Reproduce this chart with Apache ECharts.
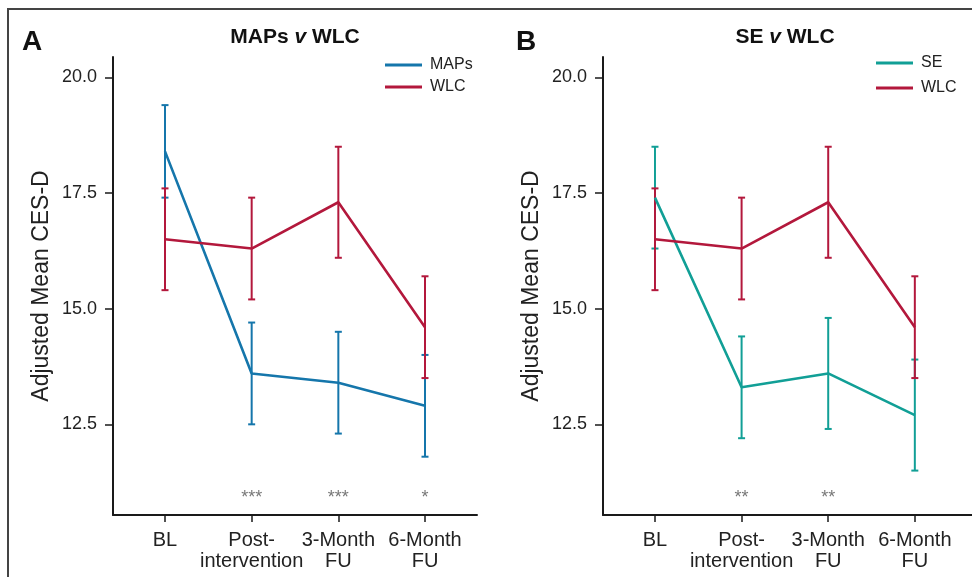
<!DOCTYPE html>
<html><head><meta charset="utf-8">
<script src="https://cdn.jsdelivr.net/npm/echarts@6/dist/echarts.min.js"></script>
<style>
html,body{margin:0;padding:0;background:#fff;overflow:hidden;}
#c{width:972px;height:577px;position:absolute;left:0;top:0;}
#frame{position:absolute;left:7px;top:8px;width:990px;height:600px;border-left:2px solid #444;border-top:2px solid #444;pointer-events:none;}
</style></head><body>
<div id="c"></div><div id="frame"></div>
<script>
// ---- data ----
const categories = ['BL', 'Post-\nintervention', '3-Month\nFU', '6-Month\nFU'];
const yTicks = [12.5, 15.0, 17.5, 20.0];
const mapsMean = [18.4, 13.6, 13.4, 12.9];
const mapsLow  = [17.4, 12.5, 12.3, 11.8];
const mapsHigh = [19.4, 14.7, 14.5, 14.0];
const wlcMean  = [16.5, 16.3, 17.3, 14.6];
const wlcLow   = [15.4, 15.2, 16.1, 13.5];
const wlcHigh  = [17.6, 17.4, 18.5, 15.7];
const seMean   = [17.4, 13.3, 13.6, 12.7];
const seLow    = [16.3, 12.2, 12.4, 11.5];
const seHigh   = [18.5, 14.4, 14.8, 13.9];
const sigA = ['', '***', '***', '*'];
const sigB = ['', '**', '**', ''];
const sigLevel = 11.0;

// ---- styling ----
const BLUE = '#1576ab', RED = '#b3183c', TEAL = '#119f96';
const FONT = '"Liberation Sans", Arial, Helvetica, sans-serif';
const AX = '#1a1a1a';

const chart = echarts.init(document.getElementById('c'), null, {renderer: 'canvas'});

function pts(arr) { return arr.map((v, i) => [i, v]); }
function errData(lo, hi) { return lo.map((v, i) => [i, v, hi[i]]); }
function errRender(color) {
  return function (params, api) {
    const x = api.value(0);
    const lo = api.coord([x, api.value(1)]);
    const hi = api.coord([x, api.value(2)]);
    const hw = 3.5;
    const style = {stroke: color, lineWidth: 2};
    return {type: 'group', children: [
      {type: 'line', shape: {x1: lo[0], y1: lo[1], x2: hi[0], y2: hi[1]}, style: style},
      {type: 'line', shape: {x1: lo[0] - hw, y1: lo[1], x2: lo[0] + hw, y2: lo[1]}, style: style},
      {type: 'line', shape: {x1: hi[0] - hw, y1: hi[1], x2: hi[0] + hw, y2: hi[1]}, style: style}
    ]};
  };
}
function xAxisCfg(gi, max) {
  return {
    type: 'value', gridIndex: gi, min: -0.6, max: max,
    axisLine: {show: true, onZero: false, lineStyle: {color: AX, width: 2}},
    axisTick: {show: true, length: 7, customValues: [0, 1, 2, 3], lineStyle: {color: AX, width: 1.5}},
    axisLabel: {customValues: [0, 1, 2, 3], formatter: v => categories[Math.round(v)],
      fontSize: 20, lineHeight: 21, color: '#222', margin: 15, fontFamily: FONT},
    splitLine: {show: false}
  };
}
function yAxisCfg(gi) {
  return {
    type: 'value', gridIndex: gi, min: 10.54, max: 20.44,
    name: 'Adjusted Mean CES-D', nameLocation: 'middle', nameGap: 60,
    nameTextStyle: {fontSize: 23, color: '#222', fontFamily: FONT},
    axisLine: {show: true, onZero: false, lineStyle: {color: AX, width: 2}},
    axisTick: {show: true, length: 8, customValues: yTicks, lineStyle: {color: AX, width: 1.5}},
    axisLabel: {customValues: yTicks, formatter: v => v.toFixed(1), fontSize: 18, margin: 16,
      color: '#222', fontFamily: FONT},
    splitLine: {show: false}
  };
}
function lineSeries(name, data, color, gi) {
  return {type: 'line', name: name, xAxisIndex: gi, yAxisIndex: gi, data: pts(data),
    symbol: 'none', lineStyle: {color: color, width: 2.6}, itemStyle: {color: color}, z: 3};
}
function errSeries(name, lo, hi, color, gi) {
  return {type: 'custom', name: name, xAxisIndex: gi, yAxisIndex: gi, data: errData(lo, hi),
    encode: {x: 0, y: [1, 2]}, renderItem: errRender(color), z: 2};
}
function sigSeries(sig, gi) {
  return {type: 'scatter', xAxisIndex: gi, yAxisIndex: gi,
    data: sig.map((s, i) => [i, sigLevel]).filter((d, i) => sig[i] !== ''),
    symbolSize: 1, itemStyle: {color: 'rgba(0,0,0,0)'}, silent: true,
    label: {show: true, position: 'inside', formatter: p => sig[p.value[0]],
      fontSize: 18, color: '#555', fontFamily: FONT, offset: [0, 4]}};
}
const legendBase = {orient: 'vertical', itemWidth: 37, itemHeight: 3, icon: 'rect', padding: 0,
  textStyle: {fontSize: 16, color: '#222', fontFamily: FONT, padding: [0, 0, 0, 3]}};

chart.setOption({
  animation: false,
  backgroundColor: '#fff',
  grid: [
    {left: 113, top: 57, width: 364, height: 458},
    {left: 603, top: 57, width: 369, height: 458}
  ],
  xAxis: [xAxisCfg(0, 3.6), xAxisCfg(1, 3.66)],
  yAxis: [yAxisCfg(0), yAxisCfg(1)],
  legend: [
    Object.assign({}, legendBase, {data: ['MAPs', 'WLC'], left: 385, top: 57, itemGap: 6}),
    Object.assign({}, legendBase, {data: ['SE', 'WLC'], left: 876, top: 55, itemGap: 9})
  ],
  graphic: [
    {type: 'text', x: 22, y: 42, style: {text: 'A', fontSize: 28, fontWeight: 'bold', fontFamily: FONT,
      fill: '#111', verticalAlign: 'middle'}},
    {type: 'text', x: 516, y: 42, style: {text: 'B', fontSize: 28, fontWeight: 'bold', fontFamily: FONT,
      fill: '#111', verticalAlign: 'middle'}},
    {type: 'text', x: 295, y: 37, style: {text: '{b|MAPs }{i|v}{b| WLC}', align: 'center', verticalAlign: 'middle',
      rich: {b: {fontSize: 21, fontWeight: 'bold', fontFamily: FONT, fill: '#111'},
             i: {fontSize: 21, fontWeight: 'bold', fontStyle: 'italic', fontFamily: FONT, fill: '#111'}}}},
    {type: 'text', x: 785, y: 37, style: {text: '{b|SE }{i|v}{b| WLC}', align: 'center', verticalAlign: 'middle',
      rich: {b: {fontSize: 21, fontWeight: 'bold', fontFamily: FONT, fill: '#111'},
             i: {fontSize: 21, fontWeight: 'bold', fontStyle: 'italic', fontFamily: FONT, fill: '#111'}}}}
  ],
  series: [
    errSeries('MAPs CI', mapsLow, mapsHigh, BLUE, 0),
    lineSeries('MAPs', mapsMean, BLUE, 0),
    errSeries('WLC CI A', wlcLow, wlcHigh, RED, 0),
    lineSeries('WLC', wlcMean, RED, 0),
    sigSeries(sigA, 0),
    errSeries('SE CI', seLow, seHigh, TEAL, 1),
    lineSeries('SE', seMean, TEAL, 1),
    errSeries('WLC CI B', wlcLow, wlcHigh, RED, 1),
    lineSeries('WLC', wlcMean, RED, 1),
    sigSeries(sigB, 1)
  ]
});
</script>
</body></html>
